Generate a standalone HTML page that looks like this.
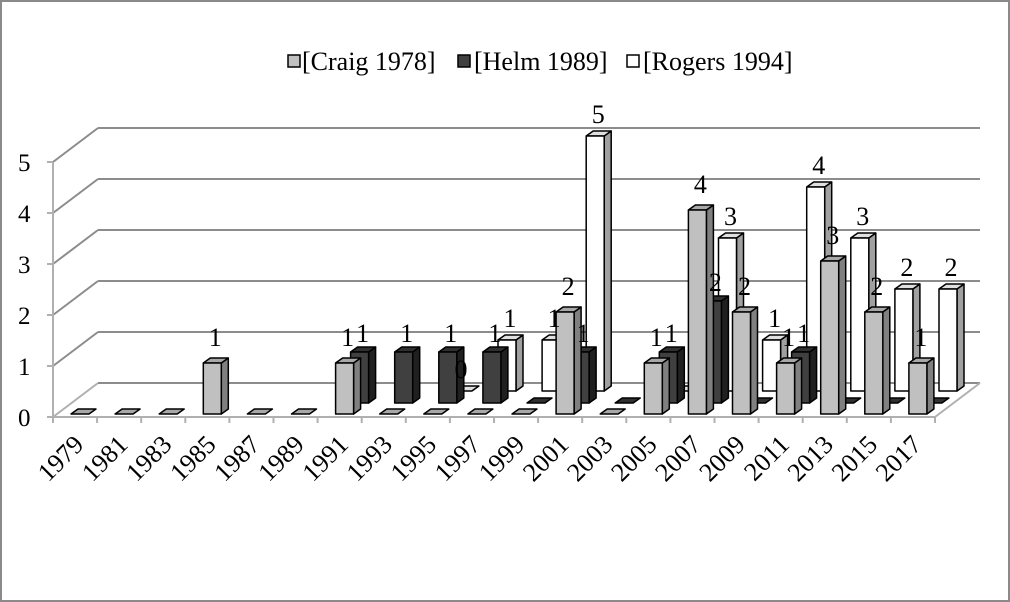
<!DOCTYPE html>
<html><head><meta charset="utf-8"><style>
html,body{margin:0;padding:0;background:#fff}
svg{display:block}
text{font-family:"Liberation Serif",serif;fill:#000}
.xl{font-size:26px}
.dl{font-size:26px}
.yl{font-size:25px}
.lg{font-size:26px}
</style></head><body>
<svg id="s" width="1010" height="602" viewBox="0 0 1010 602" xmlns="http://www.w3.org/2000/svg">
<rect x="1" y="1" width="1008" height="600" fill="#fff" stroke="#8a8a8a" stroke-width="2"/>
<g id="grid" stroke="#8c8c8c" stroke-width="2" fill="none"></g>
<g id="bars" stroke="#000" stroke-width="1.5" stroke-linejoin="round"></g>
<g id="lbl"></g>
<g>
<rect x="288" y="55" width="12" height="12" fill="#c0c0c0" stroke="#000" stroke-width="1.5"/>
<text class="lg" x="302" y="70">[Craig 1978]</text>
<rect x="458" y="55" width="12" height="12" fill="#404040" stroke="#000" stroke-width="1.5"/>
<text class="lg" x="474" y="70">[Helm 1989]</text>
<rect x="627" y="55" width="12" height="12" fill="#fff" stroke="#000" stroke-width="1.5"/>
<text class="lg" x="643" y="70">[Rogers 1994]</text>
</g>
</svg>
<script>
const NS="http://www.w3.org/2000/svg";
function el(p,t,a,txt){const e=document.createElementNS(NS,t);for(const k in a)e.setAttribute(k,a[k]);if(txt!==undefined)e.textContent=txt;document.getElementById(p).appendChild(e);return e;}
const X0=53,Y0=417,U=51,SW=44.1,DX=45,DY=34;
for(let k=0;k<=5;k++){const y=Y0-U*k;
 el('grid','line',{x1:X0,y1:y,x2:X0+DX,y2:y-DY,stroke:k==0?'#b0b0b0':'#8c8c8c'});
 el('grid','line',{x1:X0+DX,y1:y-DY,x2:980,y2:y-DY});
 el('grid','line',{x1:X0-6,y1:y,x2:X0,y2:y,stroke:'#b0b0b0'});
 el('lbl','text',{x:18,y:y+9,'class':'yl'},String(k));
}
el('grid','line',{x1:X0,y1:Y0,x2:X0,y2:Y0-5*U,stroke:'#b0b0b0'});
el('grid','line',{x1:X0,y1:Y0,x2:935,y2:Y0,stroke:'#b0b0b0'});
el('grid','line',{x1:935,y1:Y0,x2:980,y2:Y0-DY,stroke:'#b0b0b0'});
for(let i=0;i<=20;i++){const x=X0+i*SW;el('grid','line',{x1:x,y1:Y0,x2:x,y2:Y0+6,stroke:'#b0b0b0'});}
for(let i=0;i<20;i++){const x=X0+i*SW+SW/2+10,y=446;
 el('lbl','text',{x:x,y:y,'text-anchor':'end','class':'xl',transform:`rotate(-45 ${x} ${y})`},String(1979+2*i));}
function bar(x,base,v,front,side,top,lab,ld){
 const w=18,dx=7,dy=5;
 if(v==0){el('bars','polygon',{points:`${x},${base} ${x+w},${base} ${x+w+dx},${base-dy} ${x+dx},${base-dy}`,fill:top});return;}
 const t=base-v*U;
 el('bars','polygon',{points:`${x+w},${base} ${x+w+dx},${base-dy} ${x+w+dx},${t-dy} ${x+w},${t}`,fill:side});
 el('bars','polygon',{points:`${x},${t} ${x+w},${t} ${x+w+dx},${t-dy} ${x+dx},${t-dy}`,fill:top});
 el('bars','rect',{x:x,y:t,width:w,height:v*U,fill:front});
 if(lab)el('lbl','text',{x:x+w/2+3,y:t-(ld||14),'text-anchor':'middle','class':'dl'},String(v));
}
const slot=i=>X0+i*SW;
const Rv=[[9,0],[10,1],[11,1],[12,5],[14,0],[15,3],[16,1],[17,4],[18,3],[19,2],[20,2]];
Rv.forEach(([i,v])=>bar(slot(i)+4,391,v,'#fff','#a0a0a0','#e0e0e0',true,13));
el('lbl','text',{x:461,y:378,'text-anchor':'middle','class':'dl'},'0');
const Hv=[[6,1],[7,1],[8,1],[9,1],[10,0],[11,1],[12,0],[13,1],[14,2],[15,0],[16,1],[17,0],[18,0],[19,0]];
Hv.forEach(([i,v])=>bar(slot(i)+33,403,v,'#404040','#202020','#303030',true,10));
const Cv=[0,0,0,1,0,0,1,0,0,0,0,2,0,1,4,2,1,3,2,1];
Cv.forEach((v,i)=>bar(slot(i)+18,414,v,'#c0c0c0','#808080','#a8a8a8',true,17));
</script>
</body></html>
